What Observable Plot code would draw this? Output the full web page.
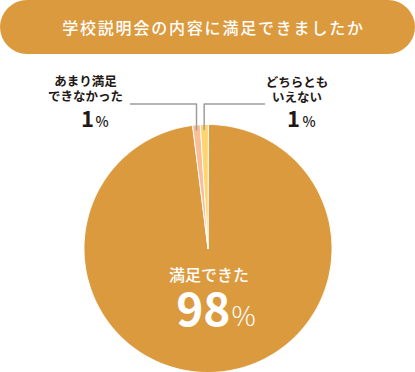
<!DOCTYPE html>
<html><head><meta charset="utf-8">
<script src="https://cdn.jsdelivr.net/npm/d3@7"></script>
<script src="https://cdn.jsdelivr.net/npm/@observablehq/plot@0.6"></script>
<style>
body{margin:0;background:#fff;font-family:"Noto Sans CJK JP",sans-serif;}
#wrap{width:415px;height:372px;overflow:hidden;}
#title{width:415px;height:54px;border-radius:27px;background:#dc9a3e;color:#fff;font-size:16px;font-weight:500;letter-spacing:1.8px;line-height:54px;text-align:center;box-sizing:border-box;padding-left:12px;white-space:nowrap;}
#chart svg{display:block;}
</style></head><body>
<div id="wrap"><div id="title"></div><div id="chart"></div></div>
<script>
const title = "学校説明会の内容に満足できましたか";
const categories = ["満足できた", "あまり満足できなかった", "どちらともいえない"];
const values = [98, 1, 1];
const colors = ["#dc9a3e", "#f9bd98", "#fdd56f"];
const labelTexts = ["満足できた", "あまり満足\nできなかった", "どちらとも\nいえない"];
const pctTexts = ["98", "1", "1"];
const pctUnit = "%";

document.getElementById("title").textContent = title;

const W = 415, H = 318;
const cx = 207.5, cy = 194, R = 124;

const rows = categories.map((c, i) => ({cat: c, value: values[i], label: labelTexts[i], pct: pctTexts[i]}));
const arcs = d3.pie().sort(null).value(d => d.value)(rows);

// slice polygons
const pts = [];
for (const a of arcs) {
  pts.push({cat: a.data.cat, x: cx, y: cy});
  const n = Math.max(2, Math.ceil((a.endAngle - a.startAngle) / (Math.PI / 360)));
  for (let k = 0; k <= n; k++) {
    const t = a.startAngle + (a.endAngle - a.startAngle) * k / n;
    pts.push({cat: a.data.cat, x: cx + R * Math.sin(t), y: cy - R * Math.cos(t)});
  }
}

// leader lines for the two small slices
const bendY = 49.5;
const leaderEnds = {1: 130, 2: 264};
const leaders = [];
for (const i of [1, 2]) {
  const a = arcs[i];
  const m = (a.startAngle + a.endAngle) / 2;
  const sx = cx + R * 0.985 * Math.sin(m);
  const sy = cy - R * 0.985 * Math.cos(m);
  leaders.push({id: i, x: sx, y: sy + 3});
  leaders.push({id: i, x: sx, y: bendY});
  leaders.push({id: i, x: leaderEnds[i], y: bendY});
}

const small = [
  {label: rows[1].label, pct: rows[1].pct, lx: 85, ly: 34.2, nx: 93.5, px: 95},
  {label: rows[2].label, pct: rows[2].pct, lx: 296.5, ly: 34.8, nx: 299.5, px: 302}
];
const main = [{label: rows[0].label, pct: rows[0].pct}];

const dark = "#231815";
const svg = Plot.plot({
  width: W, height: H,
  margin: 0,
  x: {domain: [0, W], range: [0, W], axis: null},
  y: {domain: [0, H], range: [0, H], axis: null},
  color: {domain: categories, range: colors},
  style: {fontFamily: '"Noto Sans CJK JP", sans-serif', background: "transparent"},
  marks: [
    Plot.line(pts, {x: "x", y: "y", z: "cat", fill: "cat", stroke: "#fff", strokeWidth: 1, curve: "linear-closed"}),
    Plot.line(leaders, {x: "x", y: "y", z: "id", stroke: "#9d9d9d", strokeWidth: 1.5}),
    Plot.text(small, {x: "lx", y: "ly", text: "label", fontSize: 12.5, fontWeight: 700, fill: dark, lineHeight: 1.2, lineAnchor: "middle", textAnchor: "middle"}),
    Plot.text(small, {x: "nx", y: 72, text: "pct", fontSize: 22, fontWeight: 700, fill: dark, lineAnchor: "bottom", textAnchor: "end"}),
    Plot.text(small, {x: "px", y: 72, text: () => pctUnit, fontSize: 14, fontWeight: 500, fill: dark, lineAnchor: "bottom", textAnchor: "start"}),
    Plot.text(main, {x: cx + 1, y: 221, text: "label", fontSize: 16, fontWeight: 500, fill: "#fff", lineAnchor: "middle", textAnchor: "middle", ariaLabel: "mainlabel"}),
    Plot.text(main, {x: 230, y: 271, text: "pct", fontSize: 46, fontWeight: 700, fill: "#fff", lineAnchor: "bottom", textAnchor: "end"}),
    Plot.text(main, {x: 231, y: 271, text: () => pctUnit, fontSize: 27, fontWeight: 300, fill: "#fff", lineAnchor: "bottom", textAnchor: "start"})
  ]
});
d3.select(svg).selectAll('g[aria-label="mainlabel"] text').attr("letter-spacing", "1.3px");
document.getElementById("chart").appendChild(svg);
</script>
</body></html>
